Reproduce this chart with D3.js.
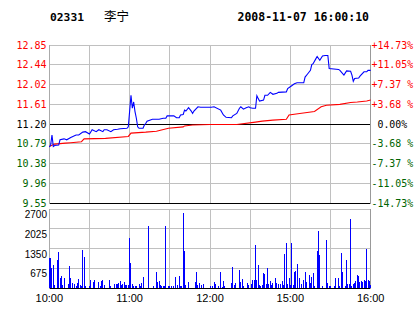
<!DOCTYPE html>
<html><head><meta charset="utf-8">
<script src="https://cdn.jsdelivr.net/npm/d3@7/dist/d3.min.js"></script>
<style>body{margin:0;background:#fff}svg{display:block}</style>
</head><body>
<svg id="c" width="414" height="314"></svg>
<script>
const stockCode = "02331";
const stockName = "李宁";
const stamp = "2008-11-07 16:00:10";
const basePrice = 11.20;
const maxPct = 0.1473;
const pctLabels = ["-14.73%","-11.05%","-7.37 %","-3.68 %"," 0.00%","+3.68 %","+7.37 %","+11.05%","+14.73%"];
const volTicks = [675, 1350, 2025, 2700];
const timeTicks = ["10:00","11:00","12:00","15:00","16:00"];

const priceTimes = ["10:00","10:01","10:02","10:03","10:04","10:07","10:08","10:11","10:13","10:16","10:20","10:22","10:25","10:27","10:30","10:32","10:35","10:37","10:40","10:41","10:43","10:46","10:48","10:51","10:53","10:58","10:59","11:01","11:02","11:03","11:04","11:05","11:06","11:07","11:10","11:11","11:12","11:13","11:17","11:22","11:25","11:27","11:28","11:33","11:35","11:37","11:38","11:40","11:41","11:42","11:44","11:46","11:47","11:48","11:51","11:53","12:01","12:03","12:08","12:10","12:12","12:16","12:17","12:20","12:22","12:23","12:25","12:27","12:29","12:30","14:32","14:34","14:35","14:36","14:37","14:40","14:41","14:43","14:45","14:47","14:50","14:51","14:57","14:58","15:01","15:03","15:05","15:10","15:11","15:13","15:15","15:16","15:17","15:19","15:20","15:22","15:24","15:26","15:28","15:29","15:36","15:37","15:40","15:42","15:45","15:46","15:47","15:48","15:51","15:52","15:55","15:57","15:58","16:00"];
const priceValues = [10.72,10.76,10.97,10.73,10.75,10.76,10.87,10.89,10.87,10.92,10.97,10.97,11.03,11.04,10.99,11.08,11.04,11.08,11.04,11.08,11.08,11.04,11.08,11.09,11.10,11.11,11.14,11.80,11.53,11.66,11.46,11.32,11.14,11.11,11.11,11.18,11.21,11.26,11.30,11.30,11.32,11.32,11.37,11.37,11.33,11.33,11.39,11.40,11.49,11.47,11.54,11.47,11.42,11.47,11.56,11.55,11.55,11.56,11.49,11.39,11.34,11.33,11.37,11.42,11.53,11.56,11.51,11.54,11.56,11.54,11.53,11.53,11.79,11.73,11.68,11.70,11.80,11.80,11.86,11.82,11.84,11.86,11.87,11.94,12.00,12.04,12.06,12.06,12.18,12.25,12.32,12.44,12.46,12.56,12.61,12.53,12.62,12.63,12.63,12.36,12.34,12.32,12.22,12.31,12.30,12.22,12.09,12.15,12.16,12.20,12.29,12.29,12.32,12.32];

const avgTimes = ["10:00","10:04","10:12","10:16","10:24","10:26","10:42","10:59","11:01","11:12","11:20","11:29","11:40","11:41","11:47","12:00","12:20","14:34","14:39","14:47","14:57","14:59","15:07","15:18","15:23","15:27","15:37","15:45","15:50","15:57","16:00"];
const avgValues = [10.73,10.78,10.80,10.81,10.83,10.89,10.90,10.94,11.01,11.03,11.05,11.11,11.14,11.16,11.18,11.19,11.19,11.24,11.26,11.28,11.30,11.39,11.42,11.46,11.56,11.59,11.61,11.65,11.66,11.68,11.70];

const volTimes = ["10:00","10:01","10:02","10:03","10:04","10:06","10:07","10:08","10:09","10:10","10:11","10:14","10:15","10:16","10:17","10:19","10:20","10:21","10:22","10:23","10:24","10:25","10:26","10:27","10:30","10:31","10:33","10:34","10:37","10:38","10:39","10:40","10:41","10:45","10:46","10:49","10:50","10:51","10:52","10:53","10:54","10:55","10:56","10:57","10:58","10:59","11:00","11:01","11:02","11:03","11:04","11:05","11:07","11:08","11:09","11:10","11:14","11:18","11:20","11:21","11:22","11:23","11:24","11:25","11:26","11:27","11:29","11:30","11:31","11:33","11:34","11:36","11:37","11:38","11:39","11:40","11:41","11:42","11:44","11:49","11:50","11:51","11:52","11:54","11:55","12:00","12:02","12:03","12:04","12:06","12:08","12:09","12:10","12:11","12:16","12:17","12:18","12:19","12:22","12:23","12:24","12:25","12:28","12:29","14:31","14:32","14:33","14:34","14:35","14:36","14:37","14:38","14:39","14:40","14:41","14:42","14:43","14:44","14:45","14:46","14:47","14:49","14:50","14:51","14:53","14:54","14:55","14:56","14:57","14:58","14:59","15:00","15:01","15:02","15:03","15:04","15:05","15:07","15:08","15:10","15:11","15:12","15:14","15:15","15:16","15:17","15:18","15:20","15:21","15:22","15:24","15:27","15:28","15:29","15:30","15:33","15:34","15:36","15:37","15:38","15:39","15:41","15:42","15:43","15:44","15:45","15:46","15:47","15:48","15:49","15:50","15:51","15:52","15:53","15:54","15:55","15:56","15:57","15:58","15:59","16:00"];
const volValues = [1030,1030,700,787,100,958,1243,353,410,100,353,137,752,353,180,125,70,160,308,100,70,1300,1072,70,80,274,190,274,217,80,240,274,100,274,70,150,125,150,160,240,100,150,190,100,100,100,1700,866,137,70,70,70,137,70,180,388,2132,70,559,190,240,100,70,70,70,2132,70,70,70,70,388,100,410,70,70,2554,1265,100,190,190,559,100,160,100,125,70,70,190,150,70,536,50,240,70,170,718,100,170,616,190,308,70,160,100,125,262,262,1470,274,787,100,70,100,502,468,150,673,150,240,100,160,353,170,137,150,240,100,1151,1528,150,353,100,1528,100,536,581,810,353,150,262,536,217,445,180,388,502,80,1265,1950,1129,70,1642,160,70,70,80,353,353,70,1208,559,70,958,137,137,2360,70,137,160,240,445,410,217,240,190,274,240,1334,262,240,100];

// trading minute index (HK session 10:00-12:30, 14:30-16:00)
function tm(s) {
  const [h, m] = s.split(":").map(Number);
  const t = h * 60 + m;
  return t <= 750 ? t - 600 : t - 870 + 150;
}

const svg = d3.select("#c");
svg.append("rect").attr("width", 414).attr("height", 314).attr("fill", "#fff");

const L = 49, R = 370.7;
const x = d3.scaleLinear().domain([0, 240]).range([L + 0.3, R]);
const y = d3.scaleLinear().domain([basePrice * (1 - maxPct), basePrice * (1 + maxPct)]).range([203, 45]);
const yv = d3.scaleLinear().domain([0, 2700]).range([288, 209]);
const px = v => Math.floor(v) + 0.5;

const mono = "'DejaVu Sans Mono', 'Liberation Mono', monospace";
const sans = "'Liberation Sans', Arial, sans-serif";
const RED = "#ff0000", GREEN = "#006400", GRID = "#c0c0c0";

// header
svg.append("text").attr("x", 50).attr("y", 20.5).attr("font-family", mono).attr("font-weight", "bold")
  .attr("font-size", 11.3).text(stockCode);
svg.append("text").attr("x", 104).attr("y", 21).attr("font-family", "'Noto Sans CJK SC', sans-serif")
  .attr("font-size", 12.5).text(stockName);
svg.append("text").attr("x", 237.5).attr("y", 20.5).attr("font-family", mono).attr("font-weight", "bold")
  .attr("font-size", 11.5).text(stamp);

const g = svg.append("g").attr("shape-rendering", "crispEdges");

// grids
const priceTicks = d3.range(9).map(i => basePrice * (1 - maxPct + i * maxPct / 4));
const minuteGrid = d3.range(0, 241, 30);
minuteGrid.forEach(m => {
  g.append("line").attr("x1", px(x(m))).attr("x2", px(x(m))).attr("y1", 45).attr("y2", 203)
    .attr("stroke", GRID);
  g.append("line").attr("x1", px(x(m))).attr("x2", px(x(m))).attr("y1", 209).attr("y2", 288)
    .attr("stroke", GRID);
});
priceTicks.forEach((p, i) => {
  const yy = px(y(p));
  const dark = (i === 4 || i === 0);
  g.append("line").attr("x1", px(x(0))).attr("x2", px(x(240))).attr("y1", yy).attr("y2", yy)
    .attr("stroke", dark ? "#000" : GRID);
});
volTicks.forEach(v => {
  g.append("line").attr("x1", px(x(0))).attr("x2", px(x(240))).attr("y1", px(yv(v))).attr("y2", px(yv(v)))
    .attr("stroke", GRID);
});
g.append("line").attr("x1", px(x(0))).attr("x2", px(x(240))).attr("y1", px(yv(0))).attr("y2", px(yv(0)))
  .attr("stroke", "#000");
[[45, 203], [209, 288]].forEach(([a, b]) => {
  g.append("line").attr("x1", px(x(240))).attr("x2", px(x(240))).attr("y1", a).attr("y2", b + 1).attr("stroke", "#999");
  g.append("line").attr("x1", px(x(0))).attr("x2", px(x(0))).attr("y1", a).attr("y2", b + 1).attr("stroke", "#aaa");
});

// price and percent labels
priceTicks.forEach((p, i) => {
  const col = i > 4 ? RED : (i === 4 ? "#000" : GREEN);
  svg.append("text").attr("x", 46.5).attr("y", y(p)).attr("text-anchor", "end")
    .attr("dominant-baseline", "central").attr("font-family", mono).attr("font-size", 10)
    .attr("fill", col).text(p.toFixed(2));
  svg.append("text").attr("x", 371.5).attr("y", y(p)).attr("dominant-baseline", "central")
    .attr("font-family", mono).attr("font-size", 9.9).attr("fill", col)
    .style("white-space", "pre").text(pctLabels[i]);
});

// volume labels
volTicks.forEach(v => {
  svg.append("text").attr("x", 47).attr("y", yv(v) + 9).attr("text-anchor", "end")
    .attr("font-family", sans).attr("font-size", 10).attr("fill", "#000").text(d3.format("d")(v));
});

// time labels
timeTicks.forEach(t => {
  svg.append("text").attr("x", x(tm(t))).attr("y", 302).attr("text-anchor", "middle")
    .attr("font-family", sans).attr("font-size", 11).attr("fill", "#000").text(t);
});

// volume bars
const vb = svg.append("g").attr("shape-rendering", "crispEdges");
volTimes.forEach((t, i) => {
  const xx = Math.floor(x(tm(t)));
  vb.append("rect").attr("x", xx).attr("width", 1.2)
    .attr("y", yv(volValues[i])).attr("height", yv(0) - yv(volValues[i]))
    .attr("fill", "#0000ff");
});

// lines
const line = d3.line().x(d => x(d[0])).y(d => y(d[1]));
svg.append("path").datum(avgTimes.map((t, i) => [tm(t), avgValues[i]]))
  .attr("d", line).attr("fill", "none").attr("stroke", RED).attr("stroke-width", 1.1);
svg.append("path").datum(priceTimes.map((t, i) => [tm(t), priceValues[i]]))
  .attr("d", line).attr("fill", "none").attr("stroke", "#0000ff").attr("stroke-width", 1.1);
</script>
</body></html>
